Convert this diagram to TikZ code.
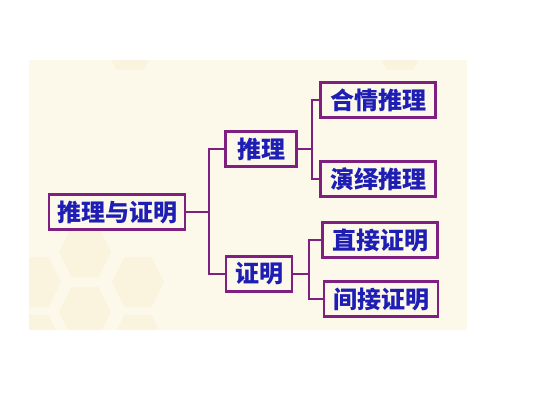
\documentclass[tikz,border=0pt]{standalone}
\usepackage{fontspec}
\newfontfamily\cjk{Noto Sans CJK SC}
\usepackage{xcolor}
\usepackage{tikz}
\usetikzlibrary{positioning, calc}

\definecolor{panel}{HTML}{FCF8EA}
\definecolor{hexcol}{HTML}{FAF3DD}
\definecolor{linkcol}{HTML}{7F1F7F}
\definecolor{txtcol}{HTML}{1E1EB4}

\begin{document}
\begin{tikzpicture}[
  x=1pt, y=-1pt,
  box/.style={draw=linkcol, line width=2.2pt, fill=panel, text=txtcol,
    font=\cjk\bfseries\fontsize{24}{28}\selectfont, inner sep=0pt,
    minimum height=35pt, minimum width=#1},
  link/.style={draw=linkcol, line width=2.2pt}
]

% Page and cream panel
\useasboundingbox (0,0) rectangle (536,409);
\fill[white] (0,0) rectangle (536,409);
\fill[panel] (29,60) rectangle (467,330);

% Faint hexagons in the background
\foreach \cx/\cy in {130/45, 400/45, 35/282, 138/282, 85/312, 85/252, 35/340, 138/340} {
  \fill[hexcol, draw=panel, line width=1.5pt] (\cx-27,\cy) -- (\cx-14,\cy-26) -- (\cx+14,\cy-26)
    -- (\cx+27,\cy) -- (\cx+14,\cy+26) -- (\cx-14,\cy+26) -- cycle;
}
\fill[white] (0,0) rectangle (536,60);
\fill[white] (0,330) rectangle (536,409);
\fill[white] (0,60) rectangle (29,330);

% Tree nodes
\node[box=136pt] (root) at (117,212) {推理与证明};
\node[box=71pt] (tl) at (261,149) {推理};
\node[box=66pt] (zm) at (259,274) {证明};
\node[box=115pt] (hq) at (378,100) {合情推理};
\node[box=115pt] (yy) at (378,179) {演绎推理};
\node[box=115pt] (zj) at (380,240) {直接证明};
\node[box=114pt] (jj) at (381,299) {间接证明};

% Connectors
\draw[link] (root.east) -- ++(23,0) |- (tl.west);
\draw[link] (root.east) -- ++(23,0) |- (zm.west);
\draw[link] (tl.east) -- ++(14,0) |- (hq.west);
\draw[link] (tl.east) -- ++(14,0) |- (yy.west);
\draw[link] (zm.east) -- ++(16,0) |- (zj.west);
\draw[link] (zm.east) -- ++(16,0) |- (jj.west);

\end{tikzpicture}
\end{document}
